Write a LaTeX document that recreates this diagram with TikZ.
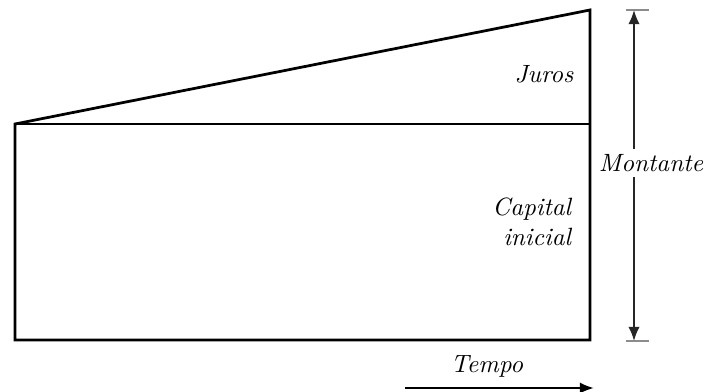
\documentclass[tikz,border=0pt]{standalone}
\usetikzlibrary{arrows.meta,positioning}
\tikzset{
  edge/.style={line width=1.1pt, black},
  tickm/.style={line width=0.9pt, black!45},
  dimar/.style={{Latex[length=2mm,width=1.6mm]}-{Latex[length=2mm,width=1.6mm]}, line width=0.7pt, black!85},
  timear/.style={-{Latex[length=2mm,width=1.6mm]}, line width=1pt},
  lbl/.style={font=\itshape, inner sep=1pt}
}
\begin{document}
\begin{tikzpicture}[x=0.4pt, y=-0.4pt]
\useasboundingbox (0,0) rectangle (705,392);
% ---- corners of the area ----
\coordinate (bl) at (15,340);
\coordinate (br) at (590,340);
\coordinate (ml) at (15,124);
\coordinate (mr) at (590,124);
\coordinate (tr) at (590,10);
% ---- capital and juros ----
\draw[edge] (ml) -- (bl) -- (br) -- (tr) -- cycle;
\draw[edge] (ml) -- (mr);
\node[lbl] (juros) at (544,74) {Juros};
\node[lbl, align=right, anchor=east] (capital) at (574,222) {Capital\\inicial};
% ---- montante ----
\coordinate (mt) at (634,10);
\coordinate (mb) at (634,341);
\draw[tickm] (626,10) -- (649,10);
\draw[tickm] (626,341) -- (649,341);
\draw[dimar] (mt) -- (mb);
\node[lbl, fill=white, inner sep=2pt] (montante) at (651,163) {Montante};
% ---- tempo ----
\coordinate (t0) at (405,388);
\coordinate (t1) at (594,388);
\draw[timear] (t0) -- (t1);
\node[lbl] (tempo) at (487,366) {Tempo};
\end{tikzpicture}
\end{document}
